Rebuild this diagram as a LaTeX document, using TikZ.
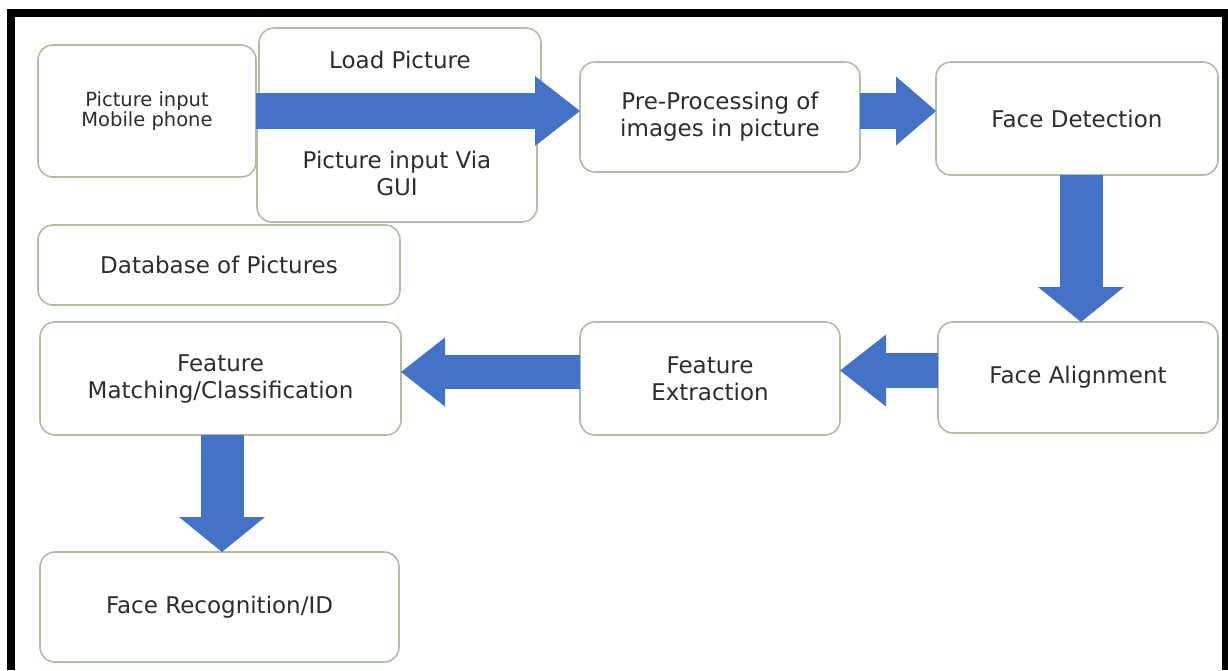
\documentclass[tikz,border=0pt]{standalone}
\usepackage{fontspec}
\setmainfont{DejaVu Sans}
\usepackage{xcolor}
\definecolor{flowblue}{RGB}{68,114,196}
\definecolor{boxgreen}{RGB}{170,192,160}
\definecolor{textgray}{RGB}{45,45,45}
\usepackage{tikz}
\usetikzlibrary{arrows.meta}

\begin{document}
\begin{tikzpicture}[x=1pt,y=1pt,
  stage/.style={draw=boxgreen,line width=1.6pt,rounded corners=15pt,fill=white,
    outer sep=0pt,inner sep=0pt,font=\fontsize{23}{27}\selectfont,text=textgray,align=center},
  caption/.style={font=\fontsize{23}{27}\selectfont,text=textgray,align=center},
  flowh/.style={draw=flowblue,line width=36pt,-{Triangle[length=45pt,width=70pt,line width=0pt]}},
  flowv/.style={draw=flowblue,line width=43pt,-{Triangle[length=35pt,width=86pt,line width=0pt]}}]
\useasboundingbox (0,0) rectangle (1228,-670);
% black frame, open at the bottom
\fill[black] (7,-9) rectangle (1228,-17);
\fill[black] (7,-9) rectangle (15,-670);
\fill[black] (1222,-9) rectangle (1228,-670);

% input stages
\node (mobile) at (147,-111) [stage,minimum width=218pt,minimum height=132pt,font=\fontsize{19.5}{20}\selectfont] {Picture input\\Mobile phone};
\node (load) at (400,-69.5) [stage,minimum width=282pt,minimum height=83pt] {};
\node (loadtext) at ([yshift=9.5pt]load.center) [caption] {Load Picture};
\node (gui) at (397,-166.5) [stage,minimum width=280pt,minimum height=111pt] {};
\node (guitext) at ([yshift=-7pt]gui.center) [caption] {Picture input Via\\GUI};
\node (database) at (219,-265) [stage,minimum width=362pt,minimum height=80pt] {Database of Pictures};

% processing stages
\node (prep) at (720,-117) [stage,minimum width=280pt,minimum height=110pt] {Pre-Processing of\\images in picture};
\node (detect) at (1077,-118.5) [stage,minimum width=282pt,minimum height=113pt] {Face Detection};
\node (align) at (1078,-377.5) [stage,minimum width=280pt,minimum height=111pt] {Face Alignment};
\node (extract) at (710,-378.5) [stage,minimum width=260pt,minimum height=113pt] {Feature\\Extraction};
\node (match) at (220.5,-378.5) [stage,minimum width=361pt,minimum height=113pt] {Feature\\Matching/Classification};
\node (recog) at (219.5,-607) [stage,minimum width=359pt,minimum height=110pt] {Face Recognition/ID};

% block arrows
\draw[flowh] (mobile.east) -- (mobile.east -| prep.west);
\draw[flowh,-{Triangle[length=40pt,width=69pt,line width=0pt]}] ([yshift=6pt]prep.east) coordinate (p2) -- (p2 -| detect.west);
\draw[flowv] ([xshift=4pt]detect.south) coordinate (p3) -- (p3 |- align.north);
\draw[flowh,line width=35pt,-{Triangle[length=46pt,width=72pt,line width=0pt]}] ([yshift=7pt]align.west) coordinate (p4) -- (p4 -| extract.east);
\draw[flowh,line width=34pt,-{Triangle[length=44pt,width=69pt,line width=0pt]}] ([yshift=6.5pt]extract.west) coordinate (p5) -- (p5 -| match.east);
\draw[flowv] ([xshift=1.5pt]match.south) coordinate (p6) -- (p6 |- recog.north);
\end{tikzpicture}
\end{document}
